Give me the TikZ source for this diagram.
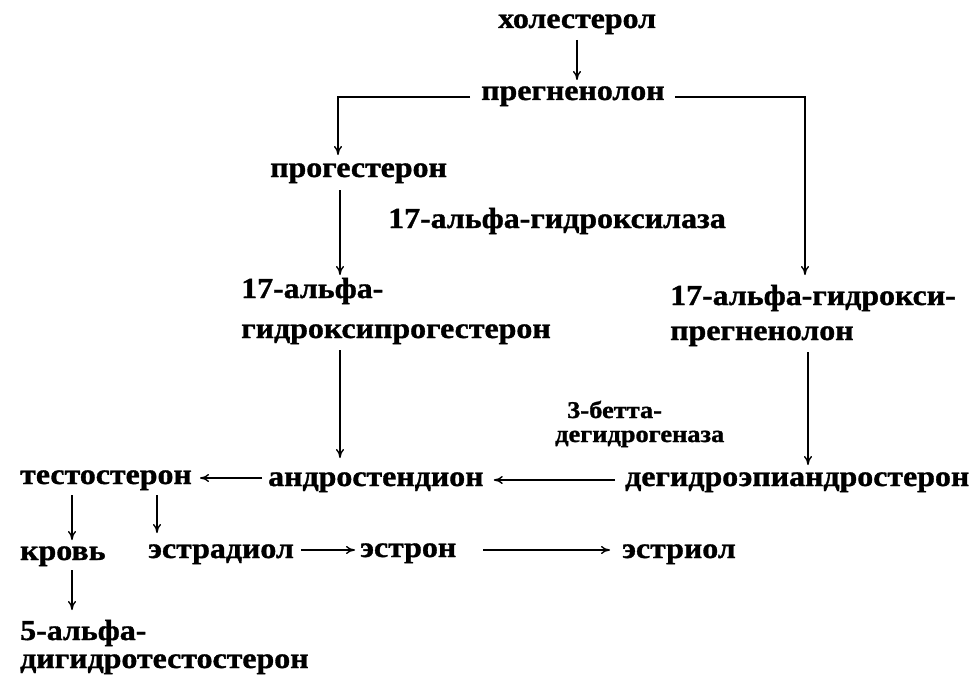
\documentclass[tikz,border=0pt]{standalone}
\usepackage{fontspec}
\setmainfont{Liberation Serif}[BoldFont={Liberation Serif Bold},BoldFeatures={FakeStretch=1.1,FakeBold=1.2}]
\usetikzlibrary{arrows.meta,calc}
\begin{document}
\begin{tikzpicture}[x=1pt,y=-1pt,
  lbl/.style={font=\bfseries\fontsize{29}{29}\selectfont, inner sep=0pt, anchor=base west},
  small/.style={font=\bfseries\fontsize{24}{25}\selectfont, inner sep=0pt, anchor=base west},
  arr/.style={-{To[length=9pt,width=8pt]}, line width=1.4pt},
  ln/.style={line width=1.4pt}]
\useasboundingbox (0,0) rectangle (971,682);
\node[lbl] (hol) at (498,28) {холестерол};
\node[lbl] (preg) at (481,100) {прегненолон};
\node[lbl] (prog) at (270,177) {прогестерон};
\node[lbl] (hyd) at (388,228) {17-альфа-гидроксилаза};
\node[lbl] (ohp1) at (241,298) {17-альфа-};
\node[lbl] (ohp2) at (241,338) {гидроксипрогестерон};
\node[lbl] (ohpr1) at (670,305) {17-альфа-гидрокси-};
\node[lbl] (ohpr2) at (670,340) {прегненолон};
\node[small] (bet1) at (567,418) {3-бетта-};
\node[small] (bet2) at (555,442) {дегидрогеназа};
\node[lbl] (test) at (20,484) {тестостерон};
\node[lbl] (andr) at (268,486) {андростендион};
\node[lbl] (dhea) at (625,486) {дегидроэпиандростерон};
\node[lbl] (krov) at (20,560) {кровь};
\node[lbl] (estd) at (148,558) {эстрадиол};
\node[lbl] (estn) at (360,557) {эстрон};
\node[lbl] (estr) at (622,558) {эстриол};
\node[lbl] (dht1) at (20,640) {5-альфа-};
\node[lbl] (dht2) at (20,668) {дигидротестостерон};
% connectors
\draw[arr] ($(hol.base -| 577,0)+(0,12)$) -- ($(preg.base -| 577,0)+(0,-20)$);
\coordinate (pl) at (338,97);
\coordinate (pr) at (805,97);
\draw[arr] ($(preg.base west)+(-11,-3)$) -- (pl) -- ($(prog.base -| pl)+(0,-22)$);
\draw[arr] ($(preg.base east)+(10,-3)$) -- (pr) -- ($(ohpr1.base -| pr)+(0,-30)$);
\draw[arr] ($(prog.base -| 340,0)+(0,13)$) -- ($(ohp1.base -| 340,0)+(0,-23)$);
\draw[arr] ($(ohp2.base -| 340,0)+(0,12)$) -- ($(andr.base -| 340,0)+(0,-28)$);
\draw[arr] ($(ohpr2.base -| 808,0)+(0,12)$) -- ($(dhea.base -| 808,0)+(0,-21)$);
\draw[arr] ($(andr.base west)+(-6,-8)$) -- ($(test.base east)+(8,-6)$);
\draw[arr] ($(dhea.base west)+(-10,-6)$) -- ($(andr.base east)+(10,-6)$);
\draw[arr] ($(test.base -| 72,0)+(0,11)$) -- ($(krov.base -| 72,0)+(0,-20)$);
\draw[arr] ($(test.base -| 157,0)+(0,11)$) -- ($(estd.base -| 157,0)+(0,-25)$);
\draw[arr] ($(estd.base east)+(7,-8)$) -- ($(estn.base west)+(-5,-7)$);
\draw[arr] ($(estn.base east)+(27,-7)$) -- ($(estr.base west)+(-12,-8)$);
\draw[arr] ($(krov.base -| 72,0)+(0,10)$) -- ($(dht1.base -| 72,0)+(0,-30)$);
\end{tikzpicture}
\end{document}
